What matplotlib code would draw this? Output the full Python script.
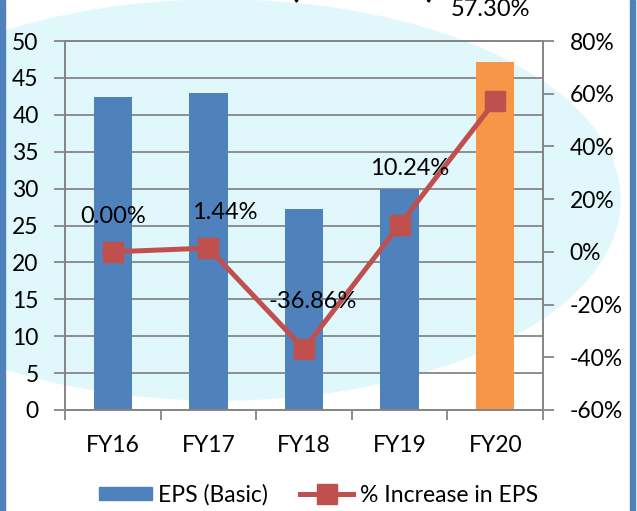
import numpy as np
import matplotlib
matplotlib.use("Agg")
import matplotlib.pyplot as plt
from matplotlib.patches import Ellipse, Rectangle, Patch
from matplotlib.lines import Line2D

# data
years = ["FY16", "FY17", "FY18", "FY19", "FY20"]
eps_basic = [42.4, 43.0, 27.2, 29.9, 47.2]
pct_increase = [0.00, 1.44, -36.86, 10.24, 57.30]
pct_labels = ["0.00%", "1.44%", "-36.86%", "10.24%", "57.30%"]
# label offsets from marker (pixels), as hand-placed in the original
label_offsets = [(0, 35), (16, 36), (9, 48), (10, 56), (-5, 91)]

BLUE = "#4f81bd"
ORANGE = "#f79646"
RED = "#c0504d"
GRID = "#868686"

plt.rcParams["font.family"] = ["Lato", "DejaVu Sans"]

W, H = 637, 511
fig = plt.figure(figsize=(W / 100, H / 100), dpi=100)

# faint watermark behind the chart
fig.patches.append(Ellipse((220 / W, 1 - 200 / H), 800 / W, 400 / H,
                           transform=fig.transFigure, color="#e0f7fb", zorder=-5))
# blue frame on left/right edges
fig.patches.append(Rectangle((0, 0), 5 / W, 1, transform=fig.transFigure, color=BLUE, zorder=5))
fig.patches.append(Rectangle((1 - 7 / W, 0), 5 / W, 1, transform=fig.transFigure, color=BLUE, zorder=5))

ax = fig.add_axes([65 / W, 1 - 410 / H, (543 - 65) / W, (410 - 41) / H])
ax.set_facecolor("none")
x = np.arange(len(years))
colors = [BLUE] * 4 + [ORANGE]
ax.bar(x, eps_basic, width=0.4, color=colors, zorder=2)

ax.set_xlim(-0.5, len(years) - 0.5)
ax.set_ylim(0, 50)
ax.set_yticks(np.arange(0, 51, 5))
ax.set_xticks(x)
ax.set_xticklabels(years)
ax.set_xticks(np.arange(-0.5, len(years), 1), minor=True)
ax.tick_params(axis="x", which="major", length=0, pad=18, labelsize=16.5)
ax.tick_params(axis="x", which="minor", length=7, width=1.3, color=GRID, direction="out")
ax.tick_params(axis="y", length=8, width=1.3, color=GRID, labelsize=16.5, pad=11)
ax.grid(axis="y", color=GRID, linewidth=1.3, zorder=0)
ax.set_axisbelow(True)
for s in ax.spines.values():
    s.set_color(GRID)
    s.set_linewidth(1.3)

ax2 = ax.twinx()
ax2.plot(x, pct_increase, color=RED, lw=3.6, marker="s", ms=14.5, zorder=3)
ax2.set_ylim(-60, 80)
ax2.set_yticks(np.arange(-60, 81, 20))
ax2.set_yticklabels([f"{v}%" for v in range(-60, 81, 20)])
ax2.tick_params(axis="y", length=8, width=1.3, color=GRID, labelsize=16.5, pad=11)
for s in ax2.spines.values():
    s.set_color(GRID)
    s.set_linewidth(1.3)

for xi, yi, lab, off in zip(x, pct_increase, pct_labels, label_offsets):
    ax2.annotate(lab, (xi, yi), xytext=off, textcoords="offset pixels",
                 ha="center", va="center", fontsize=17, annotation_clip=False)

# title, cut off at the top in the original
fig.text(438 / W, 1 + 4 / H, "EPS (in INR)", ha="right", va="baseline", fontsize=33)

handles = [Patch(color=BLUE, label="EPS (Basic)"),
           Line2D([], [], color=RED, lw=3.6, marker="s", ms=14.5, label="% Increase in EPS")]
fig.legend(handles=handles, loc="center", bbox_to_anchor=(0.5, 1 - 495 / H), ncol=2,
           frameon=False, fontsize=16.5, handlelength=2.3, handleheight=0.5,
           handletextpad=0.3, columnspacing=1.4)

fig.savefig("out.png", dpi=100)
